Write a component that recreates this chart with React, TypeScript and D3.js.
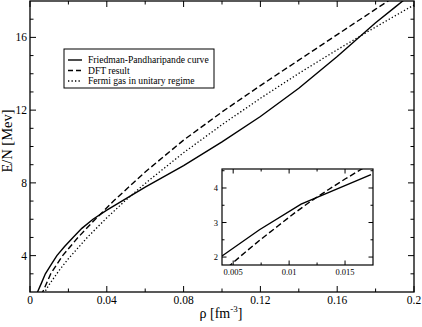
import React from 'react';
import * as d3 from 'd3';

// Friedman-Pandharipande curve (main plot)
const fpRho = [0.0035, 0.006, 0.008, 0.011, 0.014, 0.018, 0.0224, 0.027, 0.0328, 0.04, 0.06, 0.08, 0.1, 0.12, 0.14, 0.16, 0.18, 0.19, 0.2];
const fpE = [1.9, 2.5, 3.0, 3.5, 4.0, 4.5, 5.0, 5.5, 6.0, 6.5, 7.77, 8.95, 10.25, 11.65, 13.2, 14.95, 16.8, 17.65, 18.5];

// DFT result (main plot)
const dftRho = [0.0062, 0.0066, 0.0108, 0.017, 0.025, 0.034, 0.0388, 0.0435, 0.06, 0.08, 0.1, 0.12, 0.14, 0.16, 0.18, 0.2];
const dftE = [1.8, 2.0, 3.0, 4.0, 5.0, 6.0, 6.5, 7.0, 8.6, 10.35, 11.9, 13.35, 14.75, 16.15, 17.55, 18.95];

// Fermi gas in unitary regime (main plot)
const fermiRho = [0.0072, 0.0077, 0.01, 0.015, 0.02, 0.03, 0.04, 0.05, 0.06, 0.08, 0.1, 0.12, 0.14, 0.16, 0.18, 0.2];
const fermiE = [1.9, 2.0, 2.41, 3.16, 3.83, 5.02, 6.08, 7.06, 7.97, 9.66, 11.2, 12.65, 14.02, 15.32, 16.57, 17.78];

// inset curves
const insetFpRho = [0.004, 0.00735, 0.01107, 0.01732];
const insetFpE = [2.03, 2.79, 3.53, 4.39];
const insetDftRho = [0.0045, 0.006, 0.0075, 0.009, 0.0105, 0.012, 0.0135, 0.015, 0.0165, 0.0175];
const insetDftE = [1.7, 2.12, 2.52, 2.9, 3.28, 3.63, 3.95, 4.26, 4.55, 4.73];

const xMajor = [0, 0.04, 0.08, 0.12, 0.16, 0.2];
const xLabels = ['0', '0.04', '0.08', '0.12', '0.16', '0.2'];
const xMinor = [0.02, 0.06, 0.1, 0.14, 0.18];
const yMajor = [4, 8, 12, 16];
const yMinor = [3, 5, 6, 7, 9, 10, 11, 13, 14, 15, 17];

const ixMajor = [0.005, 0.01, 0.015];
const ixLabels = ['0.005', '0.01', '0.015'];
const ixMinor = [0.0075, 0.0125];
const iyMajor = [2, 3, 4];
const iyMinor = [2.5, 3.5, 4.5];

const legendItems = [
  { label: 'Friedman-Pandharipande curve', dash: null },
  { label: 'DFT result', dash: '5,3' },
  { label: 'Fermi gas in unitary regime', dash: '1.3,2.2' },
];

const FONT = "'Liberation Serif', 'Times New Roman', 'DejaVu Serif', serif";

const zip = (a: number[], b: number[]) => a.map((v, i) => [v, b[i]] as [number, number]);

export default function App() {
  const W = 422, H = 327;
  const x = d3.scaleLinear().domain([0, 0.2]).range([30, 414]);
  const y = d3.scaleLinear().domain([2, 18]).range([292, 1]);
  const ix = d3.scaleLinear().domain([0.004, 0.0175]).range([222, 373]);
  const iy = d3.scaleLinear().domain([1.77, 4.55]).range([265, 169]);

  const line = d3.line<[number, number]>().x(d => x(d[0])).y(d => y(d[1]));
  const iline = d3.line<[number, number]>().x(d => ix(d[0])).y(d => iy(d[1]));

  const [x0, x1] = x.range();
  const [y0, y1] = y.range();
  const [ix0, ix1] = ix.range();
  const [iy0, iy1] = iy.range();

  return (
    <svg width={W} height={H} style={{ position: 'absolute', left: 0, top: 0, background: '#fff', fontFamily: FONT }}>
      <defs>
        <clipPath id="mainClip">
          <rect x={x0} y={y1} width={x1 - x0} height={y0 - y1} />
        </clipPath>
        <clipPath id="insetClip">
          <rect x={ix0} y={iy1} width={ix1 - ix0} height={iy0 - iy1} />
        </clipPath>
      </defs>
      <rect width={W} height={H} fill="#fff" />

      {/* main curves */}
      <g clipPath="url(#mainClip)" fill="none" stroke="#000">
        <path d={line(zip(fpRho, fpE)) || ''} strokeWidth={1.4} />
        <path d={line(zip(dftRho, dftE)) || ''} strokeWidth={1.4} strokeDasharray="6,3" />
        <path d={line(zip(fermiRho, fermiE)) || ''} strokeWidth={1.3} strokeDasharray="1.3,2.2" />
      </g>

      {/* main frame and ticks */}
      <g stroke="#000" strokeWidth={1}>
        {xMajor.map(v => (
          <g key={'xM' + v}>
            <line x1={x(v)} x2={x(v)} y1={y0} y2={y0 - 6} />
            <line x1={x(v)} x2={x(v)} y1={y1} y2={y1 + 6} />
          </g>
        ))}
        {xMinor.map(v => (
          <g key={'xm' + v}>
            <line x1={x(v)} x2={x(v)} y1={y0} y2={y0 - 3.5} />
            <line x1={x(v)} x2={x(v)} y1={y1} y2={y1 + 3.5} />
          </g>
        ))}
        {yMajor.map(v => (
          <g key={'yM' + v}>
            <line x1={x0} x2={x0 + 6} y1={y(v)} y2={y(v)} />
            <line x1={x1} x2={x1 - 6} y1={y(v)} y2={y(v)} />
          </g>
        ))}
        {yMinor.map(v => (
          <g key={'ym' + v}>
            <line x1={x0} x2={x0 + 3.5} y1={y(v)} y2={y(v)} />
            <line x1={x1} x2={x1 - 3.5} y1={y(v)} y2={y(v)} />
          </g>
        ))}
        <rect x={x0} y={y1} width={x1 - x0} height={y0 - y1} fill="none" strokeWidth={1.3} />
      </g>

      {/* main tick labels */}
      <g fontSize={11.5} fill="#000">
        {xMajor.map((v, i) => (
          <text key={'xl' + v} x={x(v)} y={304} textAnchor="middle">{xLabels[i]}</text>
        ))}
        {yMajor.map(v => (
          <text key={'yl' + v} x={27} y={y(v)} dy="0.35em" textAnchor="end">{v}</text>
        ))}
      </g>

      {/* axis titles */}
      <text x={221} y={318} textAnchor="middle" fontSize={14} fill="#000">
        ρ [fm<tspan dy={-6} fontSize={9}>-3</tspan><tspan dy={6}>]</tspan>
      </text>
      <text transform="translate(12,141) rotate(-90)" textAnchor="middle" fontSize={14.5} fill="#000">E/N [Mev]</text>

      {/* legend */}
      <g>
        <rect x={64} y={49} width={150} height={39} fill="#fff" stroke="#000" strokeWidth={1} />
        {legendItems.map((it, i) => {
          const ly = 60 + i * 10.5;
          return (
            <g key={it.label}>
              <line x1={68} x2={82} y1={ly} y2={ly} stroke="#000" strokeWidth={1.4} strokeDasharray={it.dash || undefined} />
              <text x={88} y={ly} dy="0.35em" fontSize={9.6} fill="#000">{it.label}</text>
            </g>
          );
        })}
      </g>

      {/* inset */}
      <rect x={ix0} y={iy1} width={ix1 - ix0} height={iy0 - iy1} fill="#fff" />
      <g clipPath="url(#insetClip)" fill="none" stroke="#000">
        <path d={iline(zip(insetFpRho, insetFpE)) || ''} strokeWidth={1.4} />
        <path d={iline(zip(insetDftRho, insetDftE)) || ''} strokeWidth={1.4} strokeDasharray="6,3" />
      </g>
      <g stroke="#000" strokeWidth={1}>
        {ixMajor.map(v => (
          <g key={'ixM' + v}>
            <line x1={ix(v)} x2={ix(v)} y1={iy0} y2={iy0 - 4.5} />
            <line x1={ix(v)} x2={ix(v)} y1={iy1} y2={iy1 + 4.5} />
          </g>
        ))}
        {ixMinor.map(v => (
          <g key={'ixm' + v}>
            <line x1={ix(v)} x2={ix(v)} y1={iy0} y2={iy0 - 2.5} />
            <line x1={ix(v)} x2={ix(v)} y1={iy1} y2={iy1 + 2.5} />
          </g>
        ))}
        {iyMajor.map(v => (
          <g key={'iyM' + v}>
            <line x1={ix0} x2={ix0 + 4.5} y1={iy(v)} y2={iy(v)} />
            <line x1={ix1} x2={ix1 - 4.5} y1={iy(v)} y2={iy(v)} />
          </g>
        ))}
        {iyMinor.map(v => (
          <g key={'iym' + v}>
            <line x1={ix0} x2={ix0 + 2.5} y1={iy(v)} y2={iy(v)} />
            <line x1={ix1} x2={ix1 - 2.5} y1={iy(v)} y2={iy(v)} />
          </g>
        ))}
        <rect x={ix0} y={iy1} width={ix1 - ix0} height={iy0 - iy1} fill="none" strokeWidth={1.2} />
      </g>
      <g fontSize={8.5} fill="#000">
        {ixMajor.map((v, i) => (
          <text key={'ixl' + v} x={ix(v)} y={275} textAnchor="middle">{ixLabels[i]}</text>
        ))}
        {iyMajor.map(v => (
          <text key={'iyl' + v} x={218} y={iy(v)} dy="0.35em" textAnchor="end">{v}</text>
        ))}
      </g>
    </svg>
  );
}
